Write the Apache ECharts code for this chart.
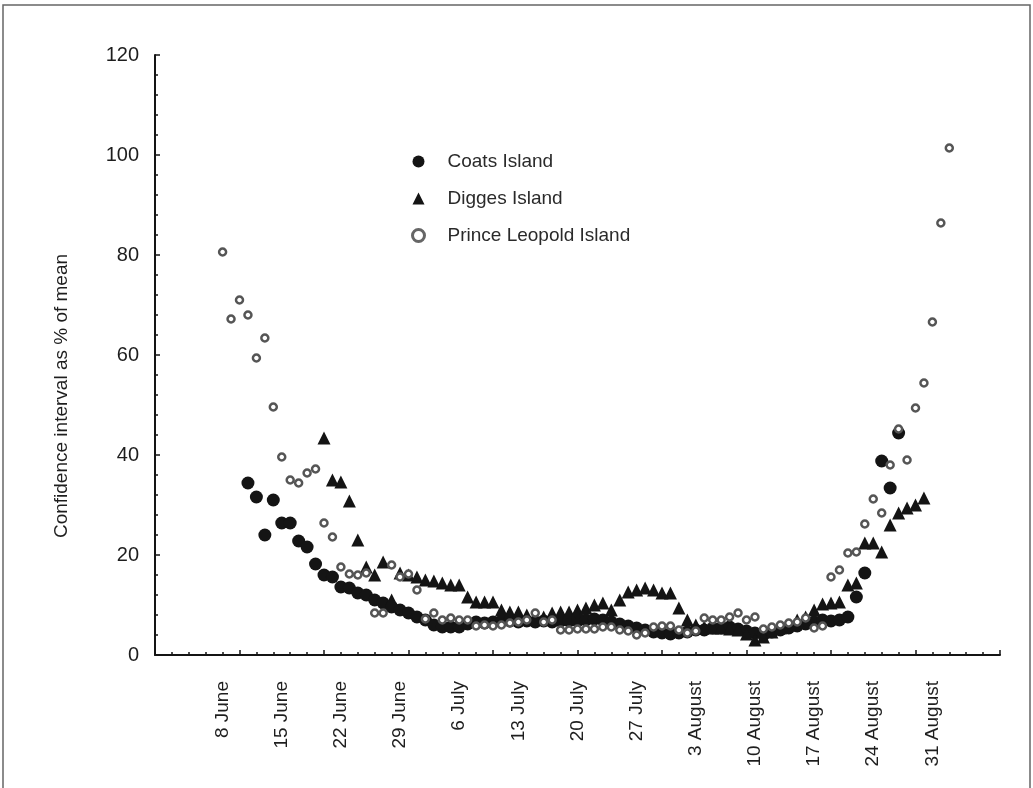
<!DOCTYPE html>
<html>
<head>
<meta charset="utf-8">
<script src="https://cdn.jsdelivr.net/npm/echarts@6/dist/echarts.min.js"></script>
<style>
  html, body { margin: 0; padding: 0; background: #fff; }
  #chart { width: 1033px; height: 788px; }
</style>
</head>
<body>
<div id="chart"></div>
<script>
// x is the day number counted from 1 June (8 = 8 June, 92 = 31 August)
const tickDays = [8, 15, 22, 29, 36, 43, 50, 57, 64, 71, 78, 85, 92]
const tickLabels = ['8 June', '15 June', '22 June', '29 June', '6 July', '13 July', '20 July',
  '27 July', '3 August', '10 August', '17 August', '24 August', '31 August']

const coatsStart = 11
const coatsValues = [34.4, 31.6, 24, 31, 26.4, 26.4, 22.8, 21.6, 18.2, 16, 15.6, 13.6, 13.4, 12.4,
  12, 11, 10.4, 9.6, 9, 8.4, 7.6, 7, 6, 5.6, 5.6, 5.6, 6.2, 6.6, 6.4, 6.6, 6.8, 6.8, 6.6, 6.8,
  6.6, 6.8, 6.6, 6.8, 6.8, 6.8, 7, 7.2, 7, 6.6, 6.2, 5.8, 5.4, 5, 4.6, 4.4, 4.2, 4.4, 4.6, 5,
  5, 5.4, 5.4, 5.6, 5.2, 4.8, 4.4, 4, 4.6, 5, 5.4, 5.8, 6.2, 6.6, 7, 6.8, 7, 7.6, 11.6, 16.4,
  null, 38.8, 33.4, 44.4]

const diggesStart = 20
const diggesValues = [43.4, 35, 34.6, 30.8, 23, 17.6, 16, 18.6, 11, 16.4, 16, 15.6, 15, 14.8,
  14.4, 14, 14, 11.6, 10.6, 10.6, 10.6, 9, 8.6, 8.6, 8, 7.6, 7.6, 8.4, 8.6, 8.6, 9, 9.4, 10,
  10.4, 9, 11, 12.6, 13, 13.4, 13, 12.4, 12.4, 9.4, 7, 6, 5.6, 5.4, 5.4, 5.2, 5, 4.2, 3, 3.6,
  4.6, 5.4, 6, 7, 7.6, 9, 10.2, 10.4, 10.6, 14, 14.4, 22.4, 22.4, 20.6, 26, 28.4, 29.4, 30, 31.4]

const leopoldStart = 8
const leopoldValues = [80.6, 67.2, 71, 68, 59.4, 63.4, 49.6, 39.6, 35, 34.4, 36.4, 37.2, 26.4,
  23.6, 17.6, 16.2, 16, 16.4, 8.4, 8.4, 18, 15.6, 16.2, 13, 7.2, 8.4, 7, 7.4, 7, 7, 5.8, 6, 5.8,
  6, 6.4, 6.6, 7, 8.4, 6.6, 7, 5, 5, 5.2, 5.2, 5.2, 5.6, 5.6, 5, 4.8, 4, 4.4, 5.6, 5.8, 5.8, 5,
  4.4, 4.8, 7.4, 7, 7, 7.6, 8.4, 7, 7.6, 5.2, 5.6, 6, 6.4, 6.6, 7.4, 5.4, 5.8, 15.6, 17, 20.4,
  20.6, 26.2, 31.2, 28.4, 38, 45.2, 39, 49.4, 54.4, 66.6, 86.4, 101.4]

const toPoints = (start, values) => values.map((v, i) => [start + i, v])

const FONT = 'Liberation Sans, Arial, sans-serif'
const INK = '#141414'
const TEXT = '#1e1e1e'

const chart = echarts.init(document.getElementById('chart'), null, { renderer: 'canvas' })

chart.setOption({
  animation: false,
  backgroundColor: '#fff',
  grid: { left: 155, right: 33, top: 55, bottom: 133 },
  legend: {
    orient: 'vertical',
    left: 406,
    top: 147,
    itemWidth: 12,
    itemHeight: 12,
    itemGap: 18,
    selectedMode: false,
    textStyle: { fontFamily: FONT, fontSize: 19, color: '#2a2a2a', padding: [0, 0, 0, 18] },
    data: [
      { name: 'Coats Island', icon: 'circle', itemStyle: { color: INK, borderWidth: 0 } },
      { name: 'Digges Island', icon: 'triangle', itemStyle: { color: INK, borderWidth: 0 } },
      { name: 'Prince Leopold Island', icon: 'circle',
        itemStyle: { color: '#fff', borderColor: '#666', borderWidth: 3 } }
    ]
  },
  xAxis: {
    type: 'value',
    min: 0,
    max: 100,
    interval: 10,
    axisLine: { lineStyle: { color: INK, width: 2 } },
    axisTick: { inside: true, length: 5, lineStyle: { color: INK, width: 1.5 },
      customValues: [0, 10, 20, 30, 40, 50, 60, 70, 80, 90, 100] },
    minorTick: { show: true, splitNumber: 5, length: 3, lineStyle: { color: INK, width: 1.5 } },
    splitLine: { show: false },
    axisLabel: {
      customValues: tickDays,
      rotate: 90,
      margin: 26,
      fontFamily: FONT,
      fontSize: 19,
      color: TEXT,
      formatter: (v) => tickLabels[tickDays.indexOf(v)] || ''
    }
  },
  yAxis: {
    type: 'value',
    min: 0,
    max: 120,
    interval: 20,
    axisLine: { show: true, lineStyle: { color: INK, width: 2 } },
    axisTick: { show: true, inside: true, length: 5, lineStyle: { color: INK, width: 1.5 } },
    minorTick: { show: true, splitNumber: 5, length: 3, lineStyle: { color: INK, width: 1.5 } },
    splitLine: { show: false },
    axisLabel: { margin: 16, fontFamily: FONT, fontSize: 20, color: TEXT }
  },
  graphic: [
    {
      type: 'rect',
      shape: { x: 3, y: 5, width: 1027, height: 790 },
      style: { fill: null, stroke: '#666', lineWidth: 1.5 },
      silent: true
    },
    {
      type: 'text',
      x: 62,
      y: 396,
      rotation: Math.PI / 2,
      style: {
        text: 'Confidence interval as % of mean',
        font: '19px ' + FONT,
        fill: TEXT,
        textAlign: 'center',
        textVerticalAlign: 'middle'
      }
    }
  ],
  series: [
    {
      name: 'Coats Island',
      type: 'scatter',
      symbol: 'circle',
      symbolSize: 13,
      itemStyle: { color: INK, opacity: 1 },
      data: toPoints(coatsStart, coatsValues)
    },
    {
      name: 'Digges Island',
      type: 'scatter',
      symbol: 'triangle',
      symbolSize: 13,
      itemStyle: { color: INK, opacity: 1 },
      data: toPoints(diggesStart, diggesValues)
    },
    {
      name: 'Prince Leopold Island',
      type: 'scatter',
      symbol: 'circle',
      symbolSize: 7,
      itemStyle: { color: '#fff', borderColor: '#555', borderWidth: 2.5, opacity: 1 },
      data: toPoints(leopoldStart, leopoldValues)
    }
  ]
})
</script>
</body>
</html>
